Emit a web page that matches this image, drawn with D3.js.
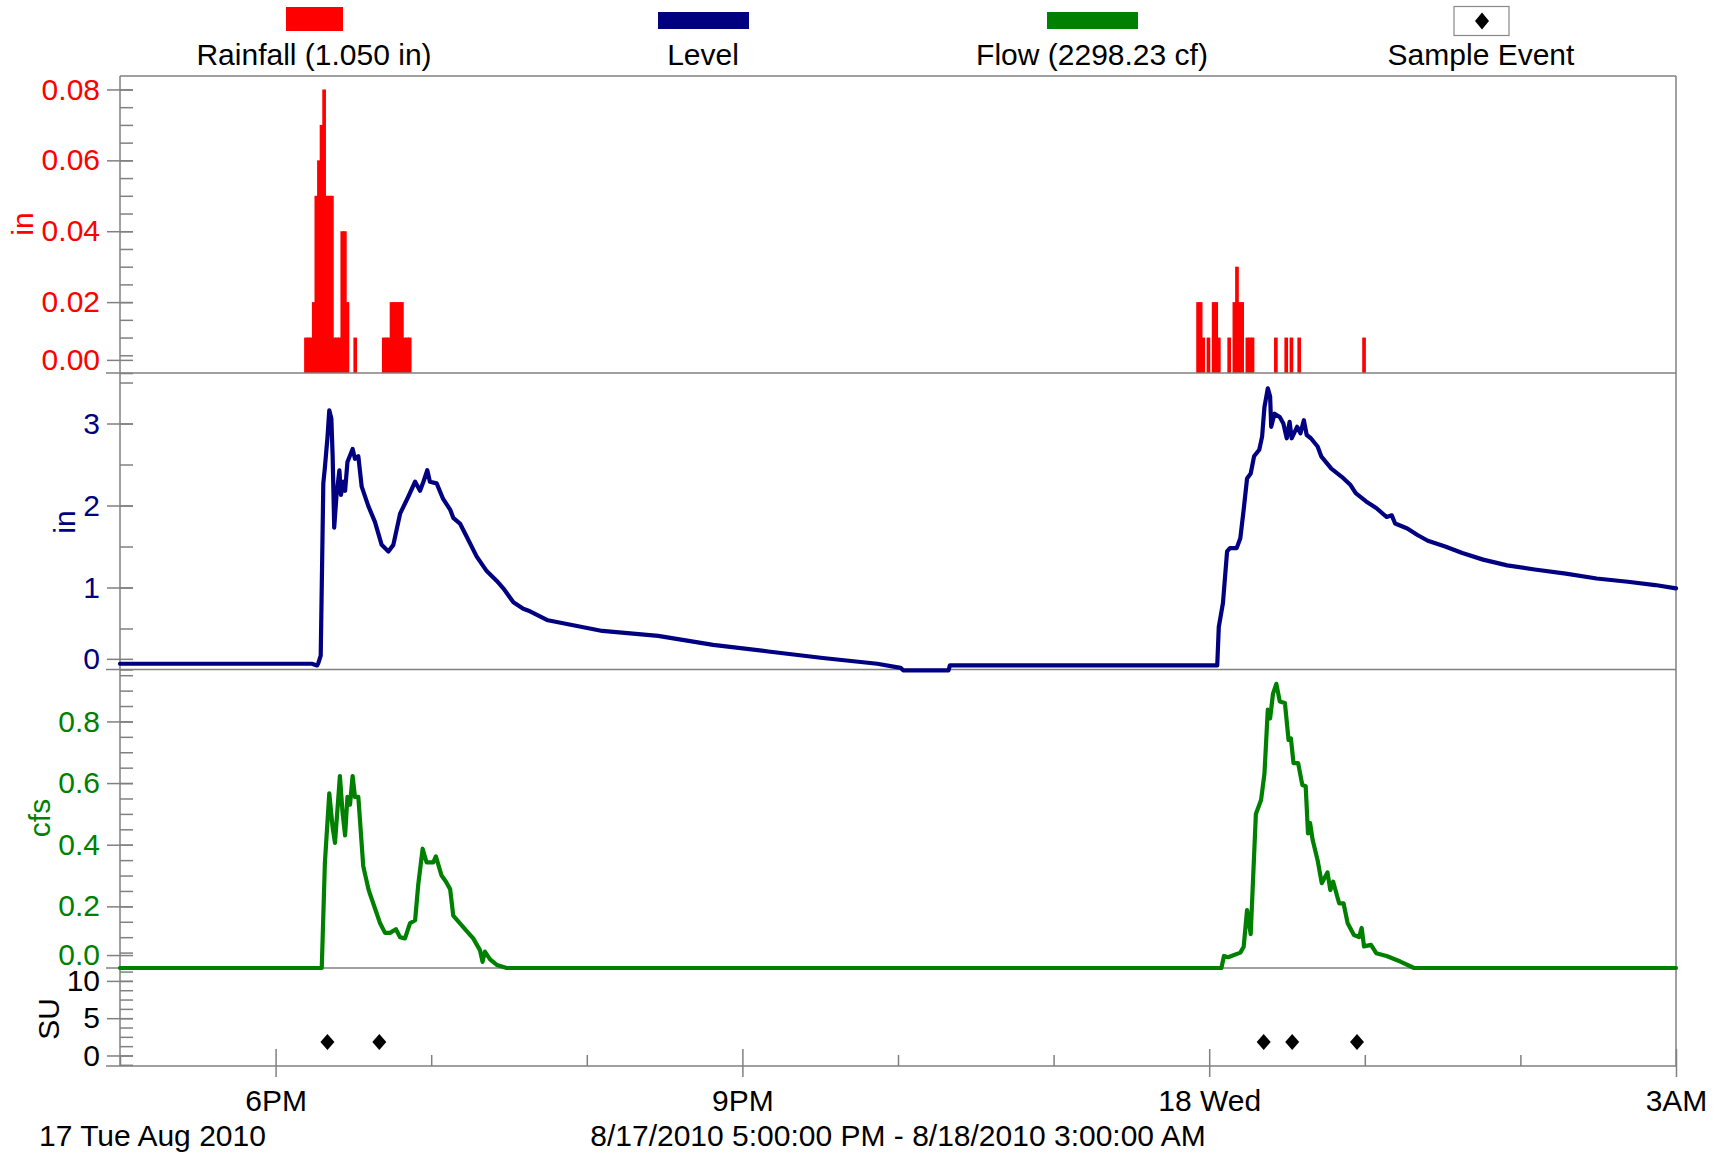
<!DOCTYPE html>
<html>
<head>
<meta charset="utf-8">
<script src="https://cdn.jsdelivr.net/npm/d3@7"></script>
<style>
  html, body { margin: 0; padding: 0; background: #fff; }
  svg { display: block; font-family: "Liberation Sans", Arial, sans-serif; }
</style>
</head>
<body>
<svg id="chart" width="1720" height="1155"></svg>
<script>
// ---------------- data (clock times, 17 Aug 2010 5PM -> 18 Aug 2010 3AM) ----------------
const rainTimes = [
  "18:11","18:12","18:13","18:14","18:15","18:16","18:17","18:18","18:19","18:20","18:21",
  "18:22","18:23","18:24","18:25","18:26","18:27","18:30",
  "18:41","18:42","18:43","18:44","18:45","18:46","18:47","18:48","18:49","18:50","18:51",
  "23:55","23:56","23:57","23:59","00:01","00:02","00:03","00:07","00:09","00:10","00:11",
  "00:12","00:14","00:15","00:16","00:25","00:29","00:31","00:34","00:59"
];
const rainValues = [
  0.01,0.01,0.01,0.02,0.05,0.06,0.07,0.08,0.05,0.05,0.05,
  0.01,0.01,0.01,0.04,0.04,0.02,0.01,
  0.01,0.01,0.01,0.02,0.02,0.02,0.02,0.02,0.01,0.01,0.01,
  0.02,0.02,0.01,0.01,0.02,0.02,0.01,0.01,0.02,0.03,0.02,
  0.02,0.01,0.01,0.01,0.01,0.01,0.01,0.01,0.01
];

const levelTimes = [
  "17:00:00","17:45:00","18:14:00","18:16:00","18:16:30","18:17:24","18:18:24","18:19:00","18:20:00",
  "18:20:42","18:21:30","18:22:00","18:22:36","18:23:30","18:24:36","18:25:12","18:26:06","18:26:48",
  "18:27:42","18:29:42","18:30:36","18:31:54","18:33:12","18:35:48","18:38:18","18:40:54","18:43:30",
  "18:45:24","18:48:00","18:51:12","18:53:48","18:55:42","18:57:00","18:58:30","18:59:30","19:02:06",
  "19:04:36","19:07:18","19:08:30","19:11:06","19:13:42","19:17:30","19:21:24","19:25:18","19:27:48",
  "19:31:42","19:35:30","19:38:06","19:45:00","20:06:00","20:27:30","20:48:42","21:10:00","21:31:00",
  "21:52:00","22:01:00","22:02:00","22:19:30","22:20:00","23:10:00","00:03:06","00:03:42","00:05:18",
  "00:06:54","00:08:00","00:10:36","00:12:00","00:13:18","00:14:36","00:16:00","00:17:18","00:19:18",
  "00:20:24","00:21:18","00:22:36","00:23:30","00:23:54","00:25:12","00:27:12","00:28:36","00:29:54",
  "00:31:00","00:31:48","00:33:54","00:35:12","00:36:30","00:37:36","00:39:12","00:41:48","00:43:12",
  "00:47:06","00:51:06","00:54:30","00:56:30","01:00:30","01:04:24","01:08:24","01:10:24","01:11:42",
  "01:16:24","01:20:18","01:24:18","01:31:00","01:37:36","01:45:36","01:54:54","02:05:30","02:17:30",
  "02:29:24","02:41:24","02:52:00","03:00:00"
];
const levelValues = [
  0.07,0.07,0.07,0.05,0.08,0.17,2.27,2.46,2.83,
  3.16,3.06,2.60,1.73,2.13,2.43,2.13,2.29,2.18,
  2.53,2.69,2.57,2.60,2.23,1.99,1.80,1.52,1.44,
  1.52,1.90,2.11,2.29,2.18,2.29,2.43,2.29,2.27,
  2.08,1.95,1.85,1.78,1.62,1.38,1.20,1.08,0.99,
  0.82,0.74,0.71,0.60,0.47,0.41,0.30,0.22,0.14,
  0.07,0.02,-0.01,-0.01,0.05,0.05,0.05,0.52,0.81,
  1.44,1.48,1.48,1.60,1.95,2.33,2.39,2.60,2.68,
  2.84,3.20,3.43,3.33,2.96,3.12,3.08,3.00,2.82,
  3.02,2.82,2.96,2.88,3.04,2.86,2.82,2.72,2.60,
  2.45,2.35,2.25,2.15,2.05,1.97,1.86,1.88,1.78,
  1.72,1.64,1.57,1.50,1.42,1.34,1.27,1.22,1.17,
  1.11,1.07,1.03,0.99
];

const flowTimes = [
  "17:00:00","18:17:48","18:19:00","18:20:42","18:22:00","18:22:54","18:24:48","18:25:48","18:26:48",
  "18:27:42","18:28:42","18:29:42","18:30:36","18:31:54","18:33:48","18:35:48","18:36:24","18:38:18",
  "18:40:18","18:42:12","18:44:06","18:46:24","18:48:00","18:49:54","18:51:48","18:53:48","18:55:00",
  "18:56:42","18:58:12","19:00:48","19:01:48","19:04:00","19:05:42","19:07:18","19:08:30","19:11:06",
  "19:13:42","19:16:12","19:18:48","19:19:48","19:20:42","19:22:42","19:25:18","19:29:06","00:04:42",
  "00:05:42","00:07:18","00:12:00","00:13:18","00:14:36","00:16:00","00:18:00","00:20:00","00:21:18",
  "00:22:36","00:23:30","00:24:36","00:25:54","00:27:12","00:29:12","00:30:36","00:31:30","00:32:30",
  "00:34:18","00:35:54","00:37:12","00:38:06","00:38:54","00:39:54","00:41:48","00:43:24","00:45:36",
  "00:46:42","00:47:48","00:50:06","00:51:48","00:53:24","00:55:48","00:57:48","00:58:48","00:59:42",
  "01:02:24","01:04:24","01:08:24","01:13:42","01:19:00","03:00:00"
];
const flowValues = [
  0,0,0.34,0.567,0.455,0.406,0.623,0.505,0.43,
  0.555,0.53,0.623,0.555,0.555,0.33,0.256,0.24,0.194,
  0.145,0.114,0.114,0.126,0.10,0.096,0.145,0.155,0.27,
  0.387,0.343,0.343,0.362,0.30,0.28,0.256,0.17,0.145,
  0.12,0.096,0.058,0.02,0.053,0.028,0.01,0,0,
  0.039,0.035,0.05,0.069,0.188,0.11,0.50,0.545,0.63,
  0.838,0.81,0.89,0.922,0.865,0.86,0.74,0.745,0.665,
  0.665,0.594,0.59,0.437,0.47,0.415,0.35,0.275,0.31,
  0.253,0.28,0.21,0.21,0.145,0.107,0.10,0.13,0.07,
  0.075,0.048,0.039,0.021,0,0
];
const flowTotal = 2298.23;

const sampleTimes = ["18:20","18:40","00:21","00:32","00:57"];
const sampleValues = [1.8, 1.8, 1.8, 1.8, 1.8];

// axis ticks; the lowest label of each panel sits a little above the panel floor
const rainTickValues = [0.0037, 0.02, 0.04, 0.06, 0.08];
const rainTickLabels = ["0.00", "0.02", "0.04", "0.06", "0.08"];
const levelTickValues = [0.13, 1, 2, 3];
const levelTickLabels = ["0", "1", "2", "3"];
const flowTickValues = [0.042, 0.2, 0.4, 0.6, 0.8];
const flowTickLabels = ["0.0", "0.2", "0.4", "0.6", "0.8"];
const suTickValues = [0, 5, 10];
const suTickLabels = ["0", "5", "10"];

// ---------------- helpers ----------------
function parseClock(s) {
  const p = s.split(":").map(Number);
  const day = p[0] < 17 ? 18 : 17;
  return new Date(2010, 7, day, p[0], p[1], p[2] || 0);
}
const RED = "#ff0000", NAVY = "#000080", GREEN = "#008000", GRID = "#808080";
const FONT = 30;
const FAMILY = "'Liberation Sans', Arial, sans-serif";

const svg = d3.select("#chart");
const L = 120, R = 1676;
const rows = { top: 76, rain: 373, level: 669.5, flow: 968, bottom: 1066 };

const x = d3.scaleTime()
  .domain([new Date(2010, 7, 17, 17), new Date(2010, 7, 18, 3)])
  .range([L, R]);

const yRain = d3.scaleLinear().domain([0, 0.0838]).range([rows.rain, rows.top]);
const yLevel = d3.scaleLinear().domain([0, 3.616]).range([rows.level, rows.rain]);
const yFlow = d3.scaleLinear().domain([0, 0.9685]).range([rows.flow, rows.level]);
const ySU = d3.scaleLinear().domain([-1.41, 11.73]).range([rows.bottom, rows.flow]);

// ---------------- rainfall bars (one-minute tips) ----------------
const rain = rainTimes.map((t, i) => ({ t: parseClock(t), v: rainValues[i] }));
svg.append("g").selectAll("rect").data(rain).join("rect")
  .attr("x", d => x(d.t))
  .attr("width", d => x(d3.timeSecond.offset(d.t, 85)) - x(d.t))
  .attr("y", d => yRain(d.v))
  .attr("height", d => yRain(0) - yRain(d.v))
  .attr("fill", RED);

// ---------------- frame ----------------
const frame = svg.append("g").attr("stroke", GRID).attr("stroke-width", 1.5).attr("fill", "none");
frame.append("line").attr("x1", L).attr("x2", R).attr("y1", rows.top).attr("y2", rows.top);
frame.append("line").attr("x1", R).attr("x2", R).attr("y1", rows.top).attr("y2", rows.bottom);
frame.append("line").attr("x1", L).attr("x2", L).attr("y1", rows.top).attr("y2", rows.bottom);
[rows.rain, rows.level, rows.flow, rows.bottom].forEach(y =>
  frame.append("line").attr("x1", 106).attr("x2", R).attr("y1", y).attr("y2", y));

// ---------------- y axes ----------------
function yAxis(scale, values, labels, minorStep, color) {
  const g = svg.append("g").attr("transform", `translate(${L},0)`);
  const [d0, d1] = scale.domain();
  const minor = d3.range(Math.ceil(d0 / minorStep) * minorStep, d1, minorStep);
  g.append("g")
    .call(d3.axisLeft(scale).tickValues(minor).tickSize(-13).tickFormat(""))
    .call(a => a.select(".domain").remove())
    .call(a => a.selectAll("line").attr("stroke", GRID).attr("stroke-width", 1.5));
  g.append("g")
    .call(d3.axisLeft(scale).tickValues(values).tickSize(13).tickPadding(7)
      .tickFormat((d, i) => labels[i]))
    .call(a => a.select(".domain").remove())
    .call(a => a.selectAll("line").attr("x1", 13).attr("stroke", GRID).attr("stroke-width", 1.5))
    .call(a => a.selectAll("text").attr("fill", color)
      .style("font-size", FONT + "px").style("font-family", FAMILY));
}
yAxis(yRain, rainTickValues, rainTickLabels, 0.005, RED);
yAxis(yLevel, levelTickValues, levelTickLabels, 0.5, NAVY);
yAxis(yFlow, flowTickValues, flowTickLabels, 0.05, GREEN);
yAxis(ySU, suTickValues, suTickLabels, 1.25, "#000");

// rotated axis titles
function yTitle(text, bx, cy, color) {
  svg.append("text").attr("transform", `translate(${bx},${cy}) rotate(-90)`)
    .attr("text-anchor", "middle").attr("fill", color)
    .style("font-size", FONT + "px").text(text);
}
yTitle("in", 33, 224, RED);
yTitle("in", 75, 522, NAVY);
yTitle("cfs", 50, 818, GREEN);
yTitle("SU", 59, 1019, "#000");

// ---------------- time axis ----------------
const xg = svg.append("g").attr("transform", `translate(0,${rows.bottom})`);
const hourTicks = d3.timeHour.range(x.domain()[0], d3.timeHour.offset(x.domain()[1], 1));
const majorTicks = hourTicks.filter(d => d.getHours() % 3 === 0);
const minorTicks = hourTicks.filter(d => d.getHours() % 3 !== 0);
const fmtHour = d3.timeFormat("%-I%p"), fmtDay = d3.timeFormat("%-d %a");
xg.append("g")
  .call(d3.axisBottom(x).tickValues(minorTicks).tickSize(-11).tickFormat(""))
  .call(a => a.select(".domain").remove())
  .call(a => a.selectAll("line").attr("stroke", GRID).attr("stroke-width", 1.5));
xg.append("g")
  .call(d3.axisBottom(x).tickValues(majorTicks).tickSize(11)
    .tickFormat(d => d.getHours() === 0 ? fmtDay(d) : fmtHour(d)))
  .call(a => a.select(".domain").remove())
  .call(a => a.selectAll("line").attr("y1", -17).attr("stroke", GRID).attr("stroke-width", 1.5))
  .call(a => a.selectAll("text").attr("y", 45).attr("dy", 0).attr("fill", "#000")
    .style("font-size", FONT + "px").style("font-family", FAMILY));

const fmtRange = d3.timeFormat("%-m/%-d/%Y %-I:%M:%S %p");
svg.append("text").attr("x", 39).attr("y", 1146).attr("fill", "#000")
  .style("font-size", FONT + "px").text(d3.timeFormat("%-d %a %b %Y")(x.domain()[0]));
svg.append("text").attr("x", 898).attr("y", 1146).attr("text-anchor", "middle").attr("fill", "#000")
  .style("font-size", FONT + "px")
  .text(`${fmtRange(x.domain()[0])} - ${fmtRange(x.domain()[1])}`);

// ---------------- series lines ----------------
const level = levelTimes.map((t, i) => ({ t: parseClock(t), v: levelValues[i] }));
const flow = flowTimes.map((t, i) => ({ t: parseClock(t), v: flowValues[i] }));

svg.append("path").datum(level)
  .attr("d", d3.line().x(d => x(d.t)).y(d => yLevel(d.v)))
  .attr("fill", "none").attr("stroke", NAVY).attr("stroke-width", 4.2)
  .attr("stroke-linejoin", "round").attr("stroke-linecap", "round");
svg.append("path").datum(flow)
  .attr("d", d3.line().x(d => x(d.t)).y(d => yFlow(d.v)))
  .attr("fill", "none").attr("stroke", GREEN).attr("stroke-width", 4.2)
  .attr("stroke-linejoin", "round").attr("stroke-linecap", "round");

// ---------------- sample events ----------------
const diamond = (cx, cy, w, h) => `M${cx},${cy - h}L${cx + w},${cy}L${cx},${cy + h}L${cx - w},${cy}Z`;
const samples = sampleTimes.map((t, i) => ({ t: parseClock(t), v: sampleValues[i] }));
svg.append("g").selectAll("path").data(samples).join("path")
  .attr("d", d => diamond(x(d.t), ySU(d.v), 7, 8))
  .attr("fill", "#000");

// ---------------- legend ----------------
const legend = svg.append("g");
const legendItems = [
  { label: `Rainfall (${d3.sum(rainValues).toFixed(3)} in)`, cx: 314, kind: "rain" },
  { label: "Level", cx: 703, kind: "level" },
  { label: `Flow (${flowTotal.toFixed(2)} cf)`, cx: 1092, kind: "flow" },
  { label: "Sample Event", cx: 1481, kind: "sample" }
];
legendItems.forEach(it => {
  if (it.kind === "rain") {
    legend.append("rect").attr("x", it.cx - 28).attr("y", 7).attr("width", 57).attr("height", 24).attr("fill", RED);
  } else if (it.kind === "level" || it.kind === "flow") {
    legend.append("rect").attr("x", it.cx - 45).attr("y", 12).attr("width", 91).attr("height", 17)
      .attr("fill", it.kind === "level" ? NAVY : GREEN);
  } else {
    legend.append("rect").attr("x", it.cx - 27).attr("y", 6.5).attr("width", 55).attr("height", 29)
      .attr("fill", "#fff").attr("stroke", "#888").attr("stroke-width", 1.2);
    legend.append("path").attr("d", diamond(it.cx + 1, 21, 7, 8.5)).attr("fill", "#000");
  }
  legend.append("text").attr("x", it.cx).attr("y", 65).attr("text-anchor", "middle")
    .attr("fill", "#000").style("font-size", FONT + "px").text(it.label);
});
</script>
</body>
</html>
